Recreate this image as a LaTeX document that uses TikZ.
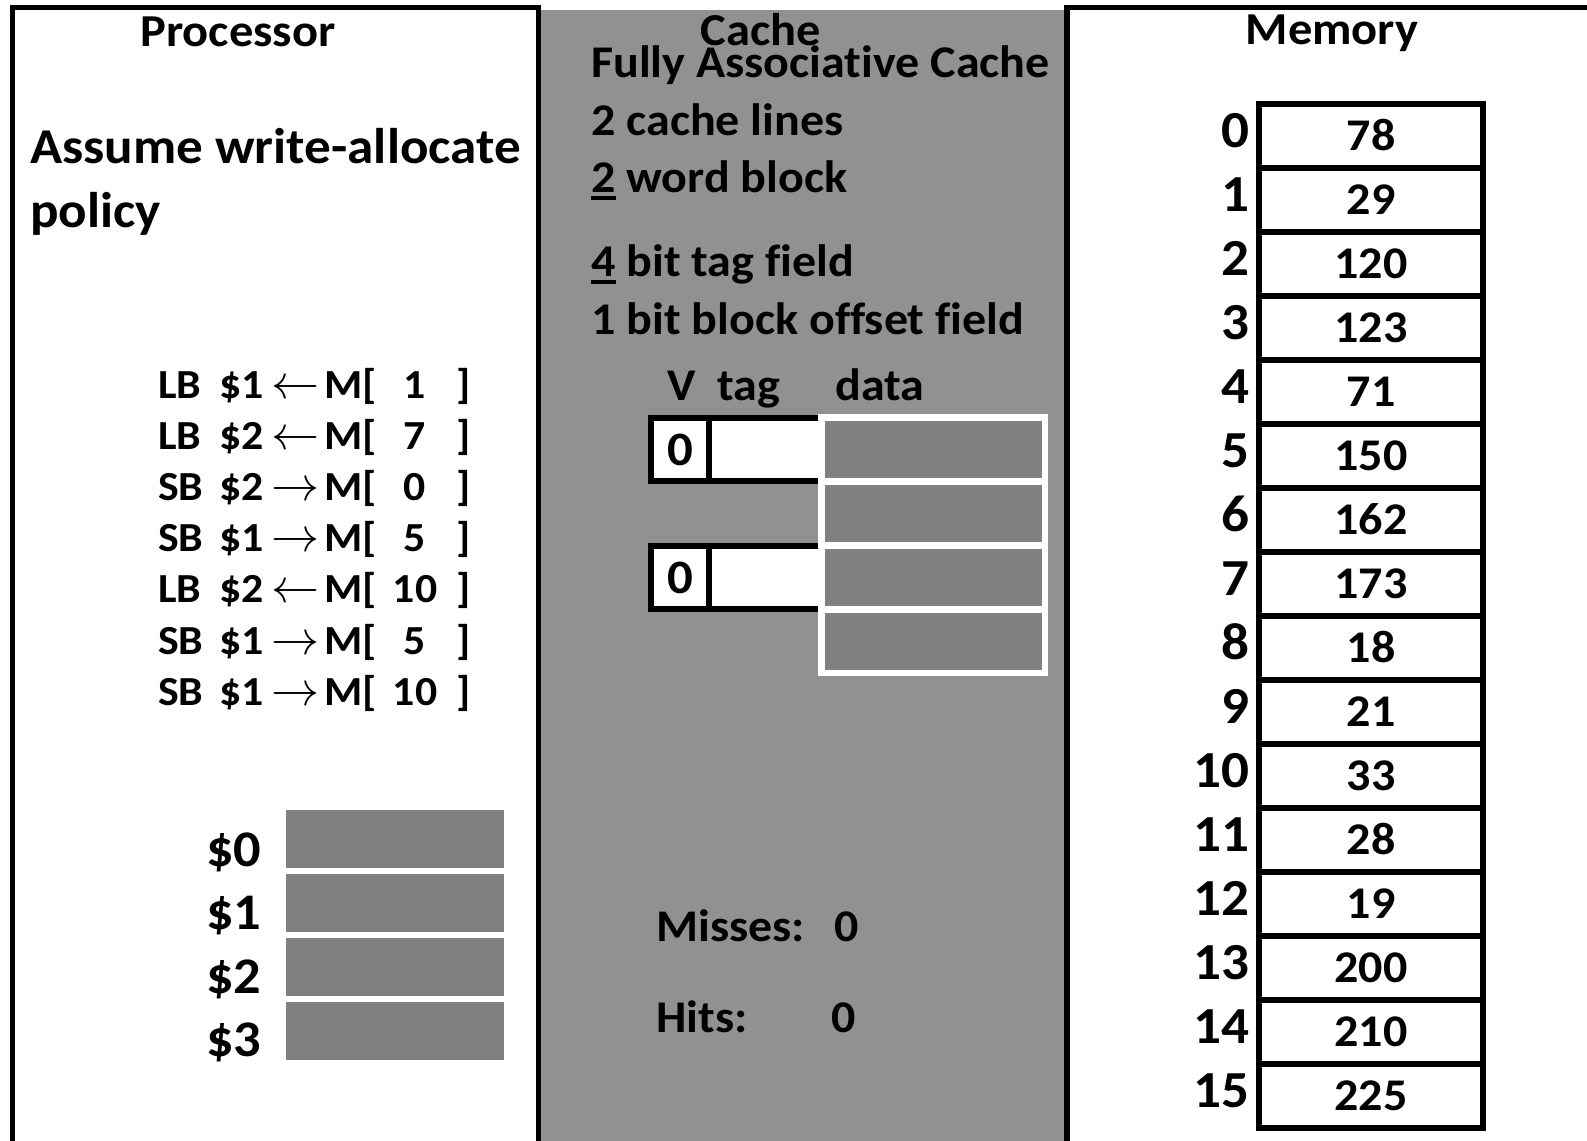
\documentclass[tikz,border=0pt]{standalone}
\usepackage{graphicx}
\usepackage{fontspec}
\setmainfont{Carlito}[Ligatures=NoCommon, FakeStretch=1.06]
\definecolor{cachebg}{RGB}{145,145,145}
\definecolor{cellgray}{RGB}{128,128,128}
\newcommand{\myul}[1]{\setbox0\hbox{#1}\rlap{\rule[-0.18em]{\wd0}{0.1em}}\box0{}}
\newcommand{\fsz}[1]{\fontsize{#1}{#1}\selectfont\bfseries}
\newcommand{\arr}[1]{\scalebox{1.45}{$#1$}}
\begin{document}
\begin{tikzpicture}[x=0.75pt,y=-0.75pt,
  txt/.style={inner sep=0pt, anchor=base},
  ltxt/.style={inner sep=0pt, anchor=base west},
  rtxt/.style={inner sep=0pt, anchor=base east},
  title/.style={txt, font=\fsz{34.3}},
  boxline/.style={line width=3.9pt, draw=black},
  memline/.style={line width=4.5pt, draw=black},
  info/.style={ltxt, font=\fsz{34}},
  instr/.style={font=\fsz{31}},
  memval/.style={txt, font=\fsz{34}},
  memidx/.style={rtxt, font=\fsz{39}},
  reglbl/.style={ltxt, font=\fsz{38.5}}]
\useasboundingbox (0,0) rectangle (1587,1140);
\clip (0,0) rectangle (1587,1140);
% cache background
\fill[cachebg] (541,10) rectangle (1064,1150);
% processor and memory frames
\draw[boxline] (12.5,1160) -- (12.5,7.5) -- (538.5,7.5) -- (538.5,1160);
\draw[boxline] (1067,1160) -- (1067,7.5) -- (1600,7.5);
% titles
\node[title] (tproc) at (238,46) {Processor};
\node[title] (tcache) at (761,45) {Cache};
\node[title] (tmem) at (1332,44) {Memory};
% processor text
\node[ltxt, font=\fsz{37.6}] (assume1) at (30,163) {Assume write-allocate};
\node[ltxt, font=\fsz{37.6}] (assume2) at (30,227) {policy};
% instructions
\foreach \op/\r/\dir/\n [count=\i from 0] in
  {LB/1/\leftarrow/1, LB/2/\leftarrow/7, SB/2/\rightarrow/0, SB/1/\rightarrow/5,
   LB/2/\leftarrow/10, SB/1/\rightarrow/5, SB/1/\rightarrow/10}{
  \pgfmathsetmacro{\yb}{398+51.2*\i}
  \node[ltxt, instr] (op\i) at (158,\yb) {\op};
  \node[ltxt, instr] (rg\i) at (219,\yb) {\$\r};
  \node[txt, instr] (ar\i) at (296,\yb) {\arr{\dir}};
  \node[ltxt, instr] (mb\i) at (324,\yb) {M[};
  \node[txt, instr] (ad\i) at (415,\yb) {\n};
  \node[ltxt, instr] (cb\i) at (456,\yb) {]};
}
% registers
\foreach \k in {0,1,2,3}{
  \fill[cellgray] (286,{810+64*\k}) rectangle (504,{868+64*\k});
  \node[reglbl] (reg\k) at (206,{866+63.5*\k}) {\$\k};
}
% cache description
\node[info] (fa) at (591,77) {Fully Associative Cache};
\node[info] (cl) at (591,135) {2 cache lines};
\node[info] (wb) at (591,192) {\myul{2} word block};
\node[info] (tf) at (591,276) {\myul{4} bit tag field};
\node[info] (of) at (591,334) {1 bit block offset field};
% header
\node[ltxt, font=\fsz{34}] (hv) at (667,400) {V};
\node[ltxt, font=\fsz{34}] (ht) at (717,400) {tag};
\node[ltxt, font=\fsz{34}] (hd) at (835,400) {data};
% V/tag rows
\filldraw[memline, fill=white] (651,418) rectangle (830,480.5);
\draw[memline] (709,418) -- (709,480.5);
\filldraw[memline, fill=white] (651,546) rectangle (830,609);
\draw[memline] (709,546) -- (709,609);
\node[txt, font=\fsz{36}] (v0) at (680,465) {0};
\node[txt, font=\fsz{36}] (v1) at (680,593) {0};
% data block
\fill[white] (818,414) rectangle (1048,676);
\foreach \k in {0,1,2,3}{
  \fill[cellgray] (825,{421+64*\k}) rectangle (1042,{478+64*\k});
}
% counters
\node[ltxt, font=\fsz{34}] (miss) at (656,941) {Misses:};
\node[ltxt, font=\fsz{34}] (missn) at (834,941) {0};
\node[ltxt, font=\fsz{34}] (hit) at (656,1032) {Hits:};
\node[ltxt, font=\fsz{34}] (hitn) at (831,1032) {0};
% memory
\draw[memline] (1259,104) rectangle (1483,1128);
\foreach \k in {1,...,15}{
  \draw[memline] (1259,{104+64*\k}) -- (1483,{104+64*\k});
}
\foreach \v [count=\k from 0] in {78,29,120,123,71,150,162,173,18,21,33,28,19,200,210,225}{
  \node[memval] (mv\k) at (1371,{150+64*\k}) {\v};
  \node[memidx] (mi\k) at (1250,{147+64*\k}) {\k};
}
\end{tikzpicture}
\end{document}
